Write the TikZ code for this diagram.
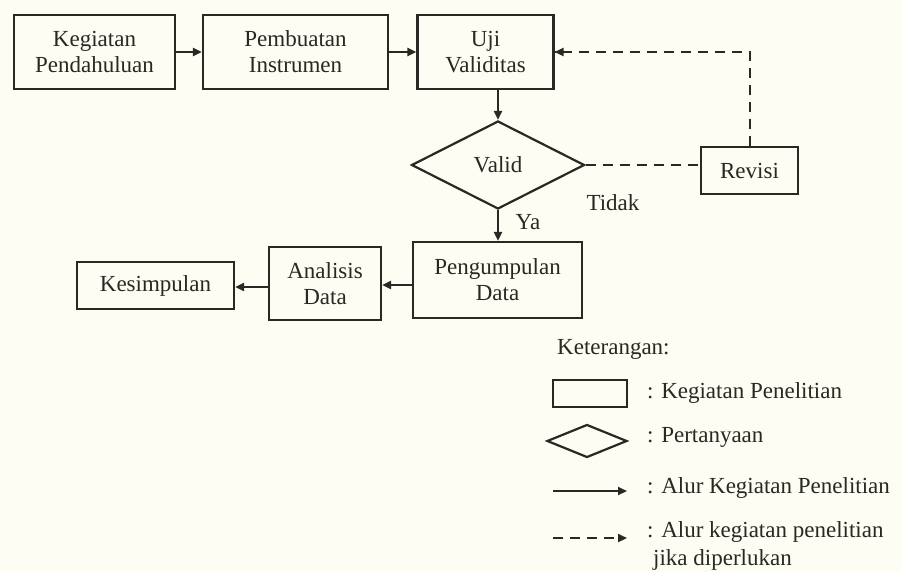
\documentclass[tikz,border=0pt]{standalone}
\usepackage{fontspec}
\setmainfont{Liberation Serif}
\usetikzlibrary{arrows.meta,shapes.geometric}
\definecolor{bgc}{RGB}{253,253,244}
\definecolor{ink}{RGB}{40,40,36}
\begin{document}
\begin{tikzpicture}[x=1pt,y=-1pt,
  txt/.style={text=ink,font=\fontsize{23}{26}\selectfont},
  box/.style={txt,draw=ink,line width=2.4pt,align=center,inner sep=0pt},
  dia/.style={txt,draw=ink,line width=2.2pt,diamond,inner sep=0pt},
  flow/.style={draw=ink,line width=2.2pt,-{Triangle[length=9pt,width=8pt]}},
  dflow/.style={draw=ink,line width=2.8pt,dash pattern=on 10pt off 7pt},
  lbl/.style={txt,anchor=west,inner sep=0pt}]
\fill[bgc] (0,0) rectangle (902,572);
\useasboundingbox (0,0) rectangle (902,572);
% main nodes
\node[box,minimum width=161pt,minimum height=74pt] (k1) at (94.5,52) {Kegiatan\\Pendahuluan};
\node[box,minimum width=185pt,minimum height=74pt] (k2) at (295.5,52) {Pembuatan\\Instrumen};
\node[box,minimum width=136pt,minimum height=74pt] (k3) at (485.5,52) {Uji\\Validitas};
\node[dia,minimum width=173pt,minimum height=88pt] (d) at (498,165) {Valid};
\node[box,minimum width=97pt,minimum height=47pt] (r) at (749.5,170.5) {Revisi};
\node[box,minimum width=169pt,minimum height=76pt] (p) at (497.5,280) {Pengumpulan\\Data};
\node[box,minimum width=112pt,minimum height=73pt] (a) at (325,283.5) {Analisis\\Data};
\node[box,minimum width=157pt,minimum height=47pt] (s) at (155.5,285.5) {Kesimpulan};
\node[txt,inner sep=0pt] (tidak) at (613,203) {Tidak};
\node[txt,inner sep=0pt] (ya) at (528,222) {Ya};
\coordinate (corner) at (750,52);
% connectors
\draw[flow] (k1.east) -- (k2.west);
\draw[flow] (k2.east) -- (k3.west);
\draw[flow] (k3.south -| d.north) -- (d.north);
\draw[flow] (d.south) -- (p.north -| d.south);
\draw[flow] (p.west |- 0,285) -- (a.east |- 0,285);
\draw[flow] (a.west |- 0,287) -- (s.east |- 0,287);
\draw[dflow] (d.east) -- (d.east -| r.west);
\draw[dflow] (r.north -| corner) -- (corner) -- (k3.east);
\draw[draw=ink,line width=2.2pt,-{Triangle[length=9pt,width=8pt]}] ([xshift=10pt]k3.east) -- (k3.east);
% legend
\node[lbl] (ket) at (557,349) {Keterangan:};
\node[draw=ink,line width=2.4pt,minimum width=74pt,minimum height=27pt,inner sep=0pt] (lr) at (590,393.5) {};
\node[draw=ink,line width=2.2pt,diamond,minimum width=80pt,minimum height=33pt,inner sep=0pt] (ld) at (587,441) {};
\coordinate (la1) at (553,491);
\coordinate (la2) at (627,491);
\coordinate (lb1) at (553,538);
\coordinate (lb2) at (627,538);
\draw[flow] (la1) -- (la2);
\draw[dflow] (lb1) -- ([xshift=-8pt]lb2);
\draw[draw=ink,line width=2.2pt,-{Triangle[length=9pt,width=8pt]}] ([xshift=-6pt]lb2) -- (lb2);
\node[lbl] (l1) at (647,393) {: Kegiatan Penelitian};
\node[lbl] (l2) at (647,437) {: Pertanyaan};
\node[lbl] (l3) at (647,488) {: Alur Kegiatan Penelitian};
\node[lbl] (l4) at (647,532) {: Alur kegiatan penelitian};
\node[lbl] (l5) at (653,560) {jika diperlukan};
\end{tikzpicture}
\end{document}
